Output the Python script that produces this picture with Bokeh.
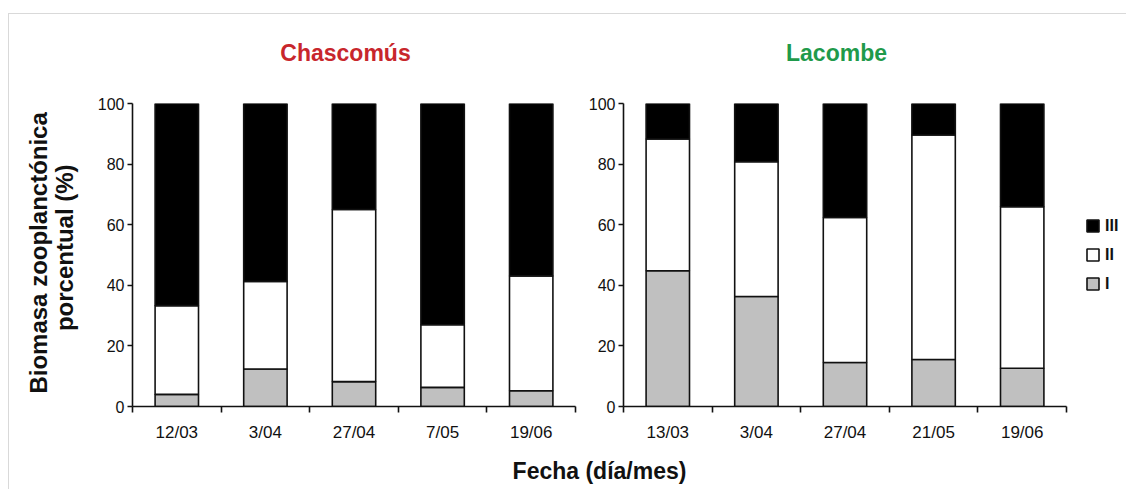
import math

from bokeh.plotting import figure
from bokeh.models import (Range1d, FixedTicker, Legend, LegendItem,
                          ColumnDataSource, Label)
from bokeh.layouts import row, column
from bokeh.embed import file_html
from bokeh.resources import INLINE

# Zooplankton biomass share (%) by size class, per sampling date
stages = ["I", "II", "III"]

chascomus_dates = ["12/03", "3/04", "27/04", "7/05", "19/06"]
chascomus_I = [4.0, 12.4, 8.2, 6.3, 5.2]
chascomus_II = [29.3, 28.9, 56.8, 20.7, 37.9]
chascomus_III = [66.7, 58.7, 35.0, 73.0, 56.9]

lacombe_dates = ["13/03", "3/04", "27/04", "21/05", "19/06"]
lacombe_I = [44.8, 36.3, 14.5, 15.5, 12.6]
lacombe_II = [43.5, 44.5, 47.9, 74.1, 53.3]
lacombe_III = [11.7, 19.2, 37.6, 10.4, 34.1]

y_ticks = [0, 20, 40, 60, 80, 100]

FONT = "Liberation Sans"
FILLS = ["#c0c0c0", "#ffffff", "#000000"]
INK = "#111111"


def blank(width, height, x0, x1, y_top, y_bottom):
    """Axis-less strip used for captions, in page pixel coordinates."""
    f = figure(width=width, height=height, x_range=Range1d(x0, x1),
               y_range=Range1d(y_bottom, y_top), output_backend="svg",
               toolbar_location=None, x_axis_type=None, y_axis_type=None,
               min_border=0)
    f.outline_line_color = None
    f.xgrid.visible = False
    f.ygrid.visible = False
    return f


def caption(f, x, y, txt, size, color=INK, angle=0.0):
    f.add_layout(Label(x=x, y=y, text=txt, angle=angle, text_align="center",
                       text_baseline="middle", text_font=FONT,
                       text_font_size=size, text_font_style="bold",
                       text_color=color))


def panel(dates, s1, s2, s3, border_right):
    n = len(dates)
    centers = [i + 0.5 for i in range(n)]
    src = ColumnDataSource(dict(x=centers, I=s1, II=s2, III=s3))
    p = figure(frame_width=443, frame_height=303,
               x_range=Range1d(0, n), y_range=Range1d(0, 100),
               output_backend="svg", toolbar_location=None,
               min_border_left=43, min_border_right=border_right,
               min_border_top=10, min_border_bottom=44,
               background_fill_color="white", border_fill_color="white")
    p.outline_line_color = None
    p.xgrid.visible = False
    p.ygrid.visible = False

    renderers = p.vbar_stack(stages, x="x", width=0.49, source=src,
                             fill_color=FILLS, line_color=INK, line_width=1.6)

    xa = p.xaxis[0]
    xa.ticker = FixedTicker(ticks=centers, minor_ticks=list(range(n + 1)))
    xa.major_label_overrides = {c: d for c, d in zip(centers, dates)}
    xa.major_tick_line_color = None
    xa.major_tick_out = 0
    xa.minor_tick_line_color = INK
    xa.minor_tick_line_width = 1.6
    xa.minor_tick_out = 6
    xa.minor_tick_in = 0
    xa.axis_line_color = INK
    xa.axis_line_width = 1.6
    xa.major_label_text_font = FONT
    xa.major_label_text_font_size = "17px"
    xa.major_label_text_color = INK
    xa.major_label_standoff = 10

    ya = p.yaxis[0]
    ya.ticker = FixedTicker(ticks=y_ticks)
    ya.major_tick_out = 5
    ya.major_tick_in = 0
    ya.major_tick_line_color = INK
    ya.major_tick_line_width = 1.6
    ya.minor_tick_line_color = None
    ya.axis_line_color = INK
    ya.axis_line_width = 1.6
    ya.major_label_text_font = FONT
    ya.major_label_text_font_size = "16px"
    ya.major_label_text_color = INK
    ya.major_label_standoff = 3
    return p, renderers


left, _ = panel(chascomus_dates, chascomus_I, chascomus_II, chascomus_III, 5)
right, rr = panel(lacombe_dates, lacombe_I, lacombe_II, lacombe_III, 60)

legend = Legend(items=[LegendItem(label=s, renderers=[r])
                       for s, r in reversed(list(zip(stages, rr)))],
                location="center_left", orientation="vertical",
                glyph_width=15, glyph_height=15, label_height=15,
                spacing=11, padding=0, margin=19, label_standoff=5,
                label_text_font=FONT, label_text_font_size="16px",
                label_text_font_style="bold", label_text_color=INK,
                border_line_color=None, background_fill_alpha=0)
right.add_layout(legend, "right")

# Lake names above each panel
top = blank(1117, 79, 9, 1126, 14, 93)
caption(top, 345, 52, "Chascomús", "23px", color="#c8262c")
caption(top, 836, 52, "Lacombe", "23px", color="#1f9a4b")

# Two-line y-axis caption (rotated labels sit half a line high, so the
# anchors are placed that much lower)
ycap = blank(80, 357, 9, 89, 93, 450)
caption(ycap, 38, 269, "Biomasa zooplanctónica", "24px", angle=math.pi / 2)
caption(ycap, 64, 263, "porcentual (%)", "24px", angle=math.pi / 2)

# Shared x-axis caption under both panels
bottom = blank(1117, 39, 9, 1126, 450, 489)
caption(bottom, 599, 470, "Fecha (día/mes)", "23px")

layout = column(top, row(ycap, left, right), bottom, margin=(13, 0, 0, 8),
                styles={"border-top": "1px solid #d9d9d9",
                        "border-left": "1px solid #d9d9d9"})

open("out.html", "w").write(file_html(layout, INLINE))
